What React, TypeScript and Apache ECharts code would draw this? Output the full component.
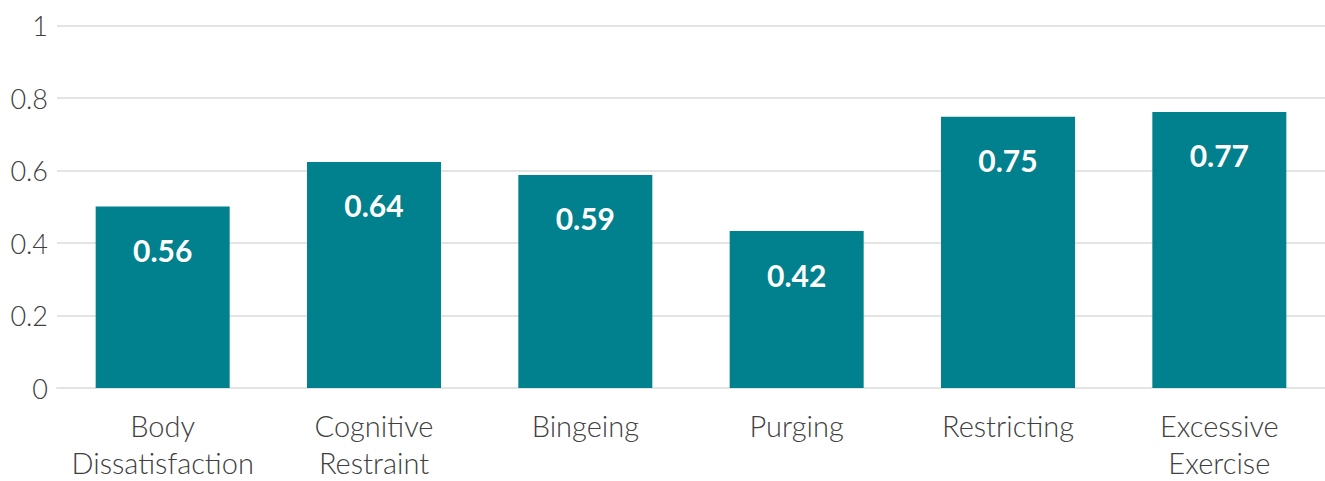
import React, { useEffect, useRef } from "react";
import * as echarts from "echarts";

const categories = [
  "Body\nDissatisfaction",
  "Cognitive\nRestraint",
  "Bingeing",
  "Purging",
  "Restricting",
  "Excessive\nExercise",
];
// bar heights as drawn
const barValues = [0.501, 0.624, 0.588, 0.433, 0.749, 0.762];
// printed labels
const valueLabels = ["0.56", "0.64", "0.59", "0.42", "0.75", "0.77"];
const yTicks = [0, 0.2, 0.4, 0.6, 0.8, 1];

export default function App() {
  const ref = useRef<HTMLDivElement>(null);
  useEffect(() => {
    if (!ref.current) return;
    const chart = echarts.init(ref.current, undefined, { renderer: "svg" });
    const font = "Lato, 'Noto Sans', sans-serif";
    chart.setOption({
      animation: false,
      backgroundColor: "#ffffff",
      grid: { left: 57, right: -5, top: 25.7, bottom: 87.7, containLabel: false },
      xAxis: {
        type: "category",
        data: categories,
        axisLine: { show: true, lineStyle: { color: "#E4E4E4", width: 2 } },
        axisTick: { show: false },
        axisLabel: {
          color: "#404040",
          fontFamily: font,
          fontWeight: 300,
          fontSize: 29,
          lineHeight: 37,
          margin: 19,
          interval: 0,
        },
      },
      yAxis: {
        type: "value",
        min: yTicks[0],
        max: yTicks[yTicks.length - 1],
        interval: 0.2,
        axisLine: { show: false },
        axisTick: { show: false },
        splitLine: { lineStyle: { color: "#E4E4E4", width: 2 } },
        axisLabel: {
          color: "#404040",
          fontFamily: font,
          fontWeight: 300,
          fontSize: 27,
          margin: 9,
          formatter: (v: number) => (v === 0 ? "0" : v === 1 ? "1" : String(Math.round(v * 10) / 10)),
        },
      },
      graphic: [
        {
          type: "rect",
          left: 49,
          top: 15,
          shape: { width: 16, height: 390 },
          style: { fill: "#ffffff" },
          z: 0,
          silent: true,
        },
      ],
      series: [
        {
          type: "bar",
          data: barValues,
          barWidth: 134,
          itemStyle: { color: "#00818D" },
          z: 5,
          label: {
            show: true,
            position: "insideTop",
            distance: 29,
            color: "#ffffff",
            fontFamily: font,
            fontWeight: "bold",
            fontSize: 30,
            lineHeight: 29,
            formatter: (p: any) => valueLabels[p.dataIndex],
          },
        },
      ],
    });
    return () => chart.dispose();
  }, []);
  return (
    <div
      ref={ref}
      style={{ position: "fixed", left: 0, top: 0, width: 1325, height: 481, background: "#fff" }}
    />
  );
}
